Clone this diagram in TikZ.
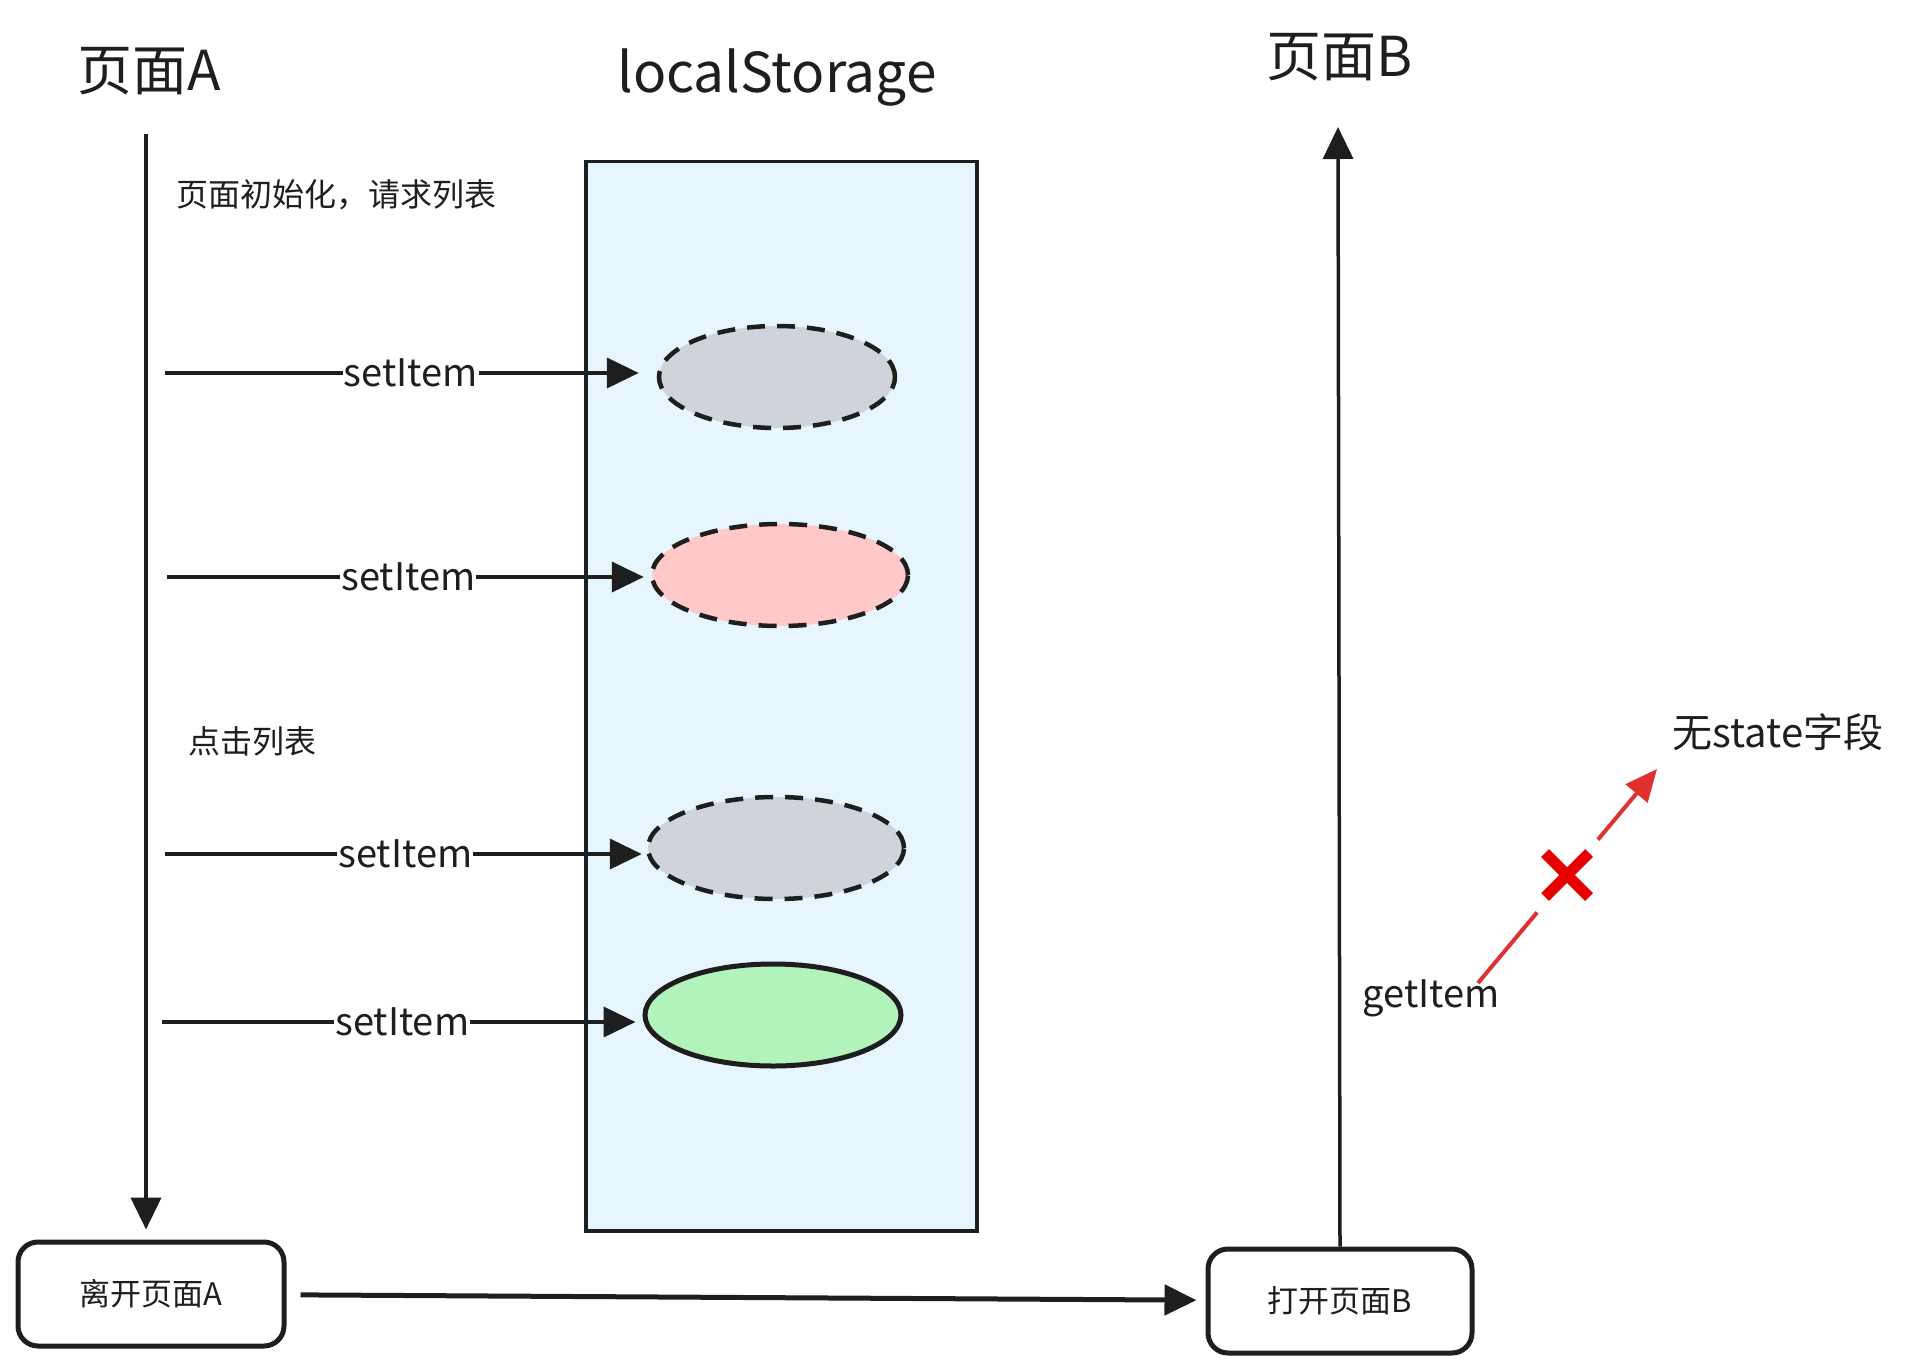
\documentclass[tikz,border=0pt]{standalone}
\usepackage{fontspec}
\setmainfont{Noto Sans CJK SC}
\usetikzlibrary{arrows.meta,shapes.geometric,calc}
\definecolor{ink}{HTML}{1E1E1E}
\definecolor{storeblue}{HTML}{E7F5FF}
\definecolor{slotgray}{HTML}{CFD4DA}
\definecolor{slotpink}{HTML}{FFC9C9}
\definecolor{slotgreen}{HTML}{B2F2BB}
\definecolor{failred}{HTML}{E03131}
\definecolor{crossred}{HTML}{E60000}
\tikzset{
    flow/.style={ink, line width=4pt, -{Triangle[length=32pt,width=30pt]}},
    slot/.style={ellipse, draw=ink, line width=4.5pt, minimum height=102pt},
    dashslot/.style={slot, dash pattern=on 18pt off 12pt},
    solidslot/.style={slot, line width=5pt},
    pagebox/.style={draw=ink, line width=5pt, rounded corners=20pt, minimum width=264pt, minimum height=104pt, text=ink, font=\fontsize{31}{36}\selectfont},
    calltext/.style={text=ink, font=\fontsize{38}{44}\selectfont},
    notetext/.style={text=ink, font=\fontsize{32}{38}\selectfont},
    titletext/.style={text=ink, font=\fontsize{55}{64}\selectfont},
}
\begin{document}
\begin{tikzpicture}[x=1pt,y=-1pt]
        \useasboundingbox (0,0) rectangle (1913,1372);
        % titles
        \node (titleA) at (149,71) [titletext] {页面A};
        \node (titleLS) at (777,77) [titletext] {localStorage};
        \node (titleB) at (1340,57) [titletext] {页面B};
        % the store and its entries
        \node (store) at (584,160) [anchor=north west, draw=ink, line width=3.5pt, fill=storeblue, minimum width=391pt, minimum height=1069pt] {};
        \foreach \n/\cx/\cy/\w/\col/\sty in {1/777/377/236/slotgray/dashslot, 2/780/575/256/slotpink/dashslot, 3/776/848/256/slotgray/dashslot, 4/773/1015/256/slotgreen/solidslot}
        {
            \node (slot\n) at (\cx,\cy) [\sty, fill=\col, minimum width=\w pt] {};
        }
        \foreach \n/\ax/\ay/\gap in {1/165/373/18, 2/167/577/6, 3/165/854/4, 4/162/1022/7}
        {
            \coordinate (from\n) at (\ax,\ay);
            \draw[flow, shorten >=\gap pt] (from\n) -- (slot\n.west |- from\n) node[midway, fill=white, inner sep=1pt, calltext] {setItem};
        }
        % page A
        \node (initA) at (173,195) [anchor=west, notetext] {页面初始化，请求列表};
        \node (clickA) at (185,741) [anchor=west, notetext] {点击列表};
        \node (leaveA) at (151,1294) [pagebox, minimum width=266pt] {离开页面A};
        \coordinate (topA) at (146,134);
        \draw[flow, shorten >=10pt] (topA) -- (topA |- leaveA.north);
        % page B
        \node (openB) at (1340,1301) [pagebox] {打开页面B};
        \coordinate (topB) at (1338,127);
        \draw[flow, line width=3.5pt] (openB.north) -- (topB);
        \draw[flow, line width=5pt, shorten <=14pt, shorten >=9pt] (leaveA) -- (openB);
        % failed read
        \node (getB) at (1431,998) [calltext] {getItem};
        \node (nostate) at (1778,732) [text=ink, font=\fontsize{40}{48}\selectfont] {无state字段};
        \coordinate (getfrom) at (1478,983);
        \coordinate (getto) at (1657,769);
        \coordinate (cross) at (1567,875);
        \draw[failred, line width=4pt] (getfrom) -- ($(getfrom)!0.33!(getto)$);
        \draw[failred, line width=4pt, -{Triangle[length=32pt,width=28pt]}] ($(getfrom)!0.67!(getto)$) -- (getto);
        \draw[crossred, line width=11pt] ($(cross)+(-22,-22)$) -- ($(cross)+(22,22)$);
        \draw[crossred, line width=11pt] ($(cross)+(-22,22)$) -- ($(cross)+(22,-22)$);
\end{tikzpicture}
\end{document}
